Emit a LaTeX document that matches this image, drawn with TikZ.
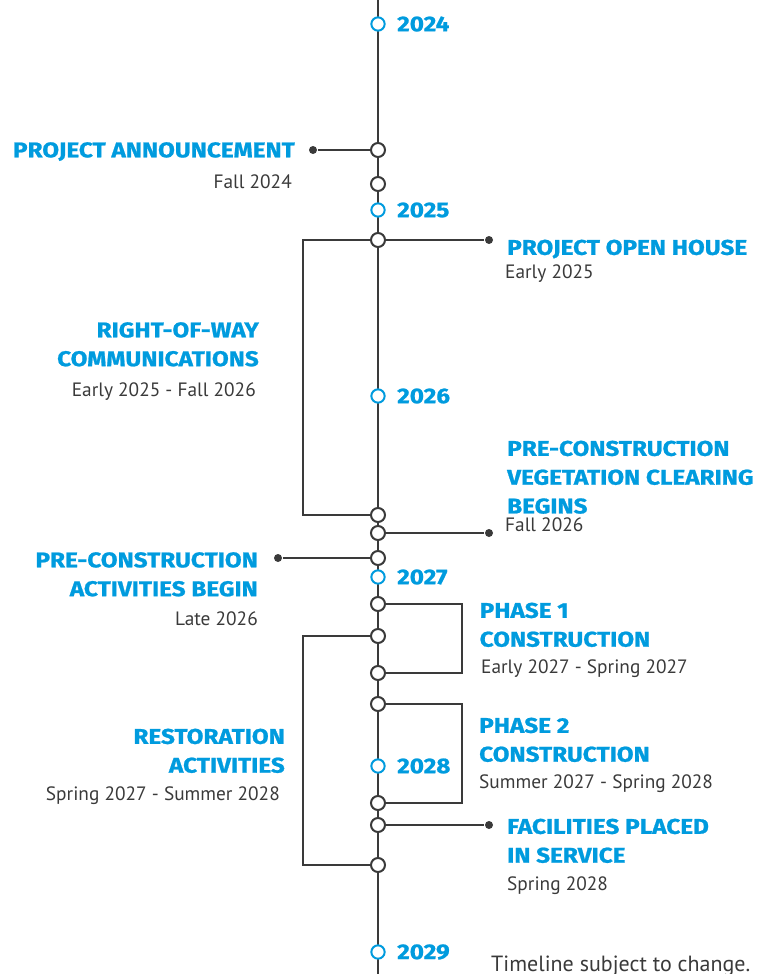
\documentclass[tikz,border=0pt]{standalone}
\usepackage{fontspec}
\setmainfont{PT Sans}
\newfontfamily\headfont[FakeStretch=1.14,FakeBold=1]{Fira Sans}
\definecolor{tlblue}{RGB}{0,155,222}
\definecolor{tlgray}{RGB}{58,58,58}

\begin{document}
\begin{tikzpicture}[x=0.75pt,y=-0.75pt,line width=1.8pt,color=tlgray,
  ev/.style={circle,draw=tlgray,line width=1.5pt,fill=white,minimum size=10.5pt,inner sep=0pt},
  yr/.style={circle,draw=tlblue,line width=1.5pt,fill=white,minimum size=10pt,inner sep=0pt},
  dot/.style={circle,fill=tlgray,minimum size=6pt,inner sep=0pt},
  yrtext/.style={anchor=west,inner sep=0pt,text=tlblue,font=\headfont\bfseries\fontsize{16}{20}\selectfont},
  title/.style={inner sep=0pt,text=tlblue,font=\headfont\bfseries\fontsize{16}{21.6}\selectfont},
  when/.style={inner sep=0pt,text=tlgray,font=\fontsize{14.5}{18}\selectfont}]
\useasboundingbox (0,0) rectangle (761,974);
\coordinate (top) at (378,0);
\coordinate (bot) at (378,974);
\draw (top) -- (bot);

\draw node[yr] (y24) at (378,24) {};
\draw node[yr] (y25) at (378,210) {};
\draw node[yr] (y26) at (378,396) {};
\draw node[yr] (y27) at (378,577) {};
\draw node[yr] (y28) at (378,766) {};
\draw node[yr] (y29) at (378,952) {};
\draw node[yrtext] (t24) at (396,24) {2024};
\draw node[yrtext] (t25) at (396,210) {2025};
\draw node[yrtext] (t26) at (396,396) {2026};
\draw node[yrtext] (t27) at (396,577) {2027};
\draw node[yrtext] (t28) at (396,766) {2028};
\draw node[yrtext] (t29) at (396,952) {2029};

\draw node[ev] (c150) at (378,150) {};
\draw node[ev] (c184) at (378,184) {};
\draw node[ev] (c240) at (378,240) {};
\draw node[ev] (c515) at (378,515) {};
\draw node[ev] (c533) at (378,533) {};
\draw node[ev] (c558) at (378,558) {};
\draw node[ev] (c604) at (378,604) {};
\draw node[ev] (c636) at (378,636) {};
\draw node[ev] (c673) at (378,673) {};
\draw node[ev] (c704) at (378,704) {};
\draw node[ev] (c803) at (378,803) {};
\draw node[ev] (c825) at (378,825) {};
\draw node[ev] (c865) at (378,865) {};

\draw node[dot] (dann) at (313,150) {};
\draw node[dot] (doh) at (489,240) {};
\draw node[dot] (dveg) at (489,533) {};
\draw node[dot] (dpca) at (278,558) {};
\draw node[dot] (dfac) at (489,825) {};
\draw (dann) -- (c150);
\draw (c240) -- (doh);
\draw (c533) -- (dveg);
\draw (dpca) -- (c558);
\draw (c825) -- (dfac);
\draw (c240) -- ++(-75,0) |- (c515);
\draw (c636) -- ++(-75,0) |- (c865);
\draw (c604) -- ++(84,0) |- (c673);
\draw (c704) -- ++(84,0) |- (c803);

\draw node[title,anchor=north east] (ann) at (296,141) {PROJECT ANNOUNCEMENT};
\draw node[when,anchor=base east] (annd) at (293,188.5) {Fall 2024};
\draw node[title,anchor=north west] (oh) at (506,238.5) {PROJECT OPEN HOUSE};
\draw node[when,anchor=base west] (ohd) at (504,278.5) {Early 2025};
\draw node[title,anchor=north east,align=right] (row) at (260,321) {RIGHT-OF-WAY\\COMMUNICATIONS};
\draw node[when,anchor=base east] (rowd) at (257,396) {Early 2025 - Fall 2026};
\draw node[title,anchor=north west,align=left] (veg) at (506,439.5) {PRE-CONSTRUCTION\\VEGETATION CLEARING\\BEGINS};
\draw node[when,anchor=base west] (vegd) at (504,531) {Fall 2026};
\draw node[title,anchor=north east,align=right] (pca) at (259,551) {PRE-CONSTRUCTION\\ACTIVITIES BEGIN};
\draw node[when,anchor=base east] (pcad) at (259,625) {Late 2026};
\draw node[title,anchor=north west,align=left] (ph1) at (478.5,601.5) {PHASE 1\\CONSTRUCTION};
\draw node[when,anchor=base west] (ph1d) at (480,673.3) {Early 2027 - Spring 2027};
\draw node[title,anchor=north west,align=left] (ph2) at (478,716.5) {PHASE 2\\CONSTRUCTION};
\draw node[when,anchor=base west] (ph2d) at (478,788.3) {Summer 2027 - Spring 2028};
\draw node[title,anchor=north east,align=right] (rest) at (286,727.5) {RESTORATION\\ACTIVITIES};
\draw node[when,anchor=base east] (restd) at (281,800) {Spring 2027 - Summer 2028};
\draw node[title,anchor=north west,align=left] (fac) at (506,817.5) {FACILITIES PLACED\\IN SERVICE};
\draw node[when,anchor=base west] (facd) at (506,890) {Spring 2028};
\draw node[when,anchor=base west,font=\fontsize{16.5}{20}\selectfont] (note) at (490,971) {Timeline subject to change.};
\end{tikzpicture}
\end{document}
